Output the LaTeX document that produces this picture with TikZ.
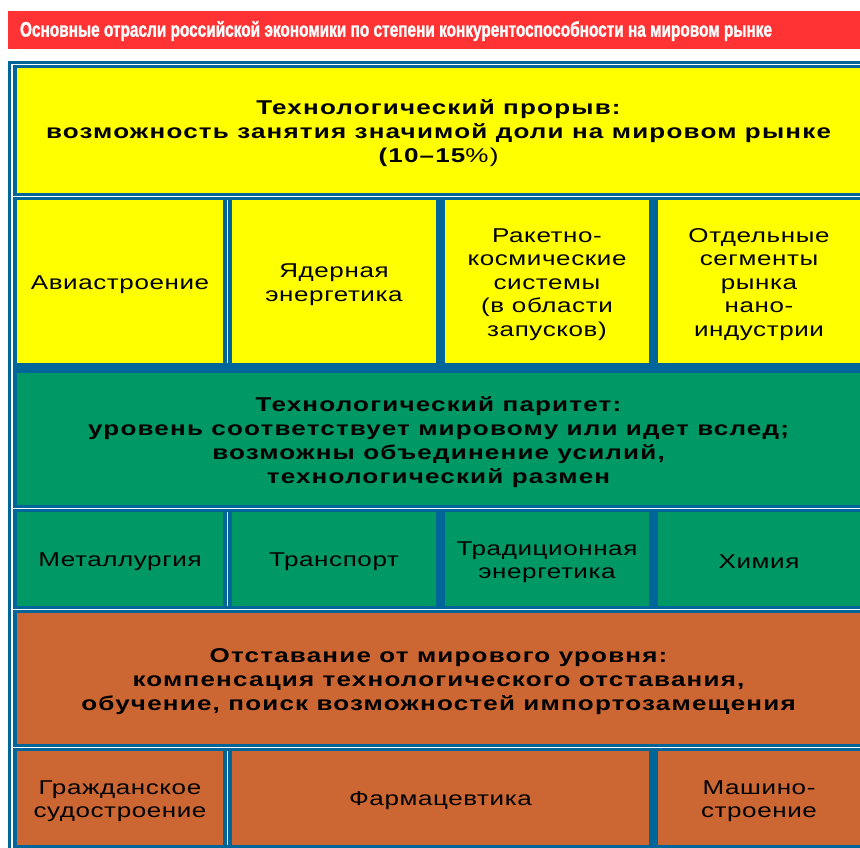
\documentclass[tikz,border=0pt]{standalone}
\usepackage{graphicx}
\usepackage{fontspec}
\setmainfont{Liberation Sans}[FakeStretch=1.3,LetterSpace=3]
\newfontfamily\headfont{Liberation Sans}[FakeStretch=1.3,LetterSpace=6]
\newfontfamily\bannerfont{Liberation Sans}[FakeBold=1.5]
\definecolor{bannerred}{HTML}{FF3333}
\definecolor{frameblue}{HTML}{006699}
\definecolor{cyellow}{HTML}{FFFF00}
\definecolor{cgreen}{HTML}{009966}
\definecolor{corange}{HTML}{CC6633}
\tikzset{
  panel/.style={inner sep=0pt, outer sep=0pt, anchor=north west},
  celltext/.style={inner sep=0pt, align=center, text=black,
    font=\fontsize{20}{23.5}\selectfont},
  headtext/.style={inner sep=0pt, align=center, text=black,
    font=\headfont\fontsize{20}{24}\selectfont\bfseries},
  whiteline/.style={white, line width=1.6pt}
}
\begin{document}
\begin{tikzpicture}[x=1pt,y=-1pt]
\useasboundingbox (0,0) rectangle (860,848);
\fill[white] (0,0) rectangle (860,848);
% banner
\node[panel, fill=bannerred, minimum width=852pt, minimum height=38pt] (banner) at (8,11) {};
\node[text=white, inner sep=0pt] (bannertext) at (396,31)
  {\resizebox{752pt}{\height}{\bannerfont\fontsize{21}{21}\selectfont\bfseries Основные отрасли российской экономики по степени конкурентоспособности на мировом рынке}};
% frame
\fill[frameblue] (8,61) rectangle (860,848);
\draw[whiteline] (11.8,848) -- (11.8,64.7) -- (860,64.7);
\draw[whiteline] (11.8,196.5) -- (860,196.5);
\draw[whiteline] (11.8,508.5) -- (860,508.5);
\draw[whiteline] (11.8,609.5) -- (860,609.5);
\draw[whiteline] (11.8,747.5) -- (860,747.5);
\draw[whiteline] (227.5,200) -- (227.5,363);
\draw[whiteline] (227.5,512) -- (227.5,606);
\draw[whiteline] (227.5,751) -- (227.5,845);
% yellow
\node[panel, fill=cyellow, minimum width=843pt, minimum height=125pt] (yhead) at (17,68) {};
\node[panel, fill=cyellow, minimum width=206pt, minimum height=163pt] (y1) at (17,200) {};
\node[panel, fill=cyellow, minimum width=204pt, minimum height=163pt] (y2) at (232,200) {};
\node[panel, fill=cyellow, minimum width=204pt, minimum height=163pt] (y3) at (445,200) {};
\node[panel, fill=cyellow, minimum width=202pt, minimum height=163pt] (y4) at (658,200) {};
\node[headtext] (yheadt) at ([yshift=-3pt]yhead.center)
  {Технологический прорыв:\\возможность занятия значимой доли на мировом рынке\\(10–15{\mdseries\%)}};
\node[celltext] (y1t) at ([yshift=-3pt]y1.center) {Авиастроение};
\node[celltext] (y2t) at ([yshift=-3pt]y2.center) {Ядерная\\энергетика};
\node[celltext] (y3t) at ([yshift=-3pt]y3.center) {Ракетно-\\космические\\системы\\(в области\\запусков)};
\node[celltext] (y4t) at ([yshift=-3pt]y4.center) {Отдельные\\сегменты\\рынка\\нано-\\индустрии};
% green
\node[panel, fill=cgreen, minimum width=843pt, minimum height=132pt] (ghead) at (17,373) {};
\node[panel, fill=cgreen, minimum width=206pt, minimum height=94pt] (g1) at (17,512) {};
\node[panel, fill=cgreen, minimum width=204pt, minimum height=94pt] (g2) at (232,512) {};
\node[panel, fill=cgreen, minimum width=204pt, minimum height=94pt] (g3) at (445,512) {};
\node[panel, fill=cgreen, minimum width=202pt, minimum height=94pt] (g4) at (658,512) {};
\node[headtext] (gheadt) at ([yshift=-3pt]ghead.center)
  {Технологический паритет:\\уровень соответствует мировому или идет вслед;\\возможны объединение усилий,\\технологический размен};
\node[celltext] (g1t) at ([yshift=-3pt]g1.center) {Металлургия};
\node[celltext] (g2t) at ([yshift=-3pt]g2.center) {Транспорт};
\node[celltext] (g3t) at ([yshift=-3pt]g3.center) {Традиционная\\энергетика};
\node[celltext] (g4t) at ([yshift=-3pt]g4.center) {Химия};
% orange
\node[panel, fill=corange, minimum width=843pt, minimum height=131pt] (ohead) at (17,613) {};
\node[panel, fill=corange, minimum width=206pt, minimum height=94pt] (o1) at (17,751) {};
\node[panel, fill=corange, minimum width=417pt, minimum height=94pt] (o2) at (232,751) {};
\node[panel, fill=corange, minimum width=202pt, minimum height=94pt] (o3) at (658,751) {};
\node[headtext] (oheadt) at ([yshift=-3pt]ohead.center)
  {Отставание от мирового уровня:\\компенсация технологического отставания,\\обучение, поиск возможностей импортозамещения};
\node[celltext] (o1t) at ([yshift=-3pt]o1.center) {Гражданское\\судостроение};
\node[celltext] (o2t) at ([yshift=-3pt]o2.center) {Фармацевтика};
\node[celltext] (o3t) at ([yshift=-3pt]o3.center) {Машино-\\строение};
\end{tikzpicture}
\end{document}
